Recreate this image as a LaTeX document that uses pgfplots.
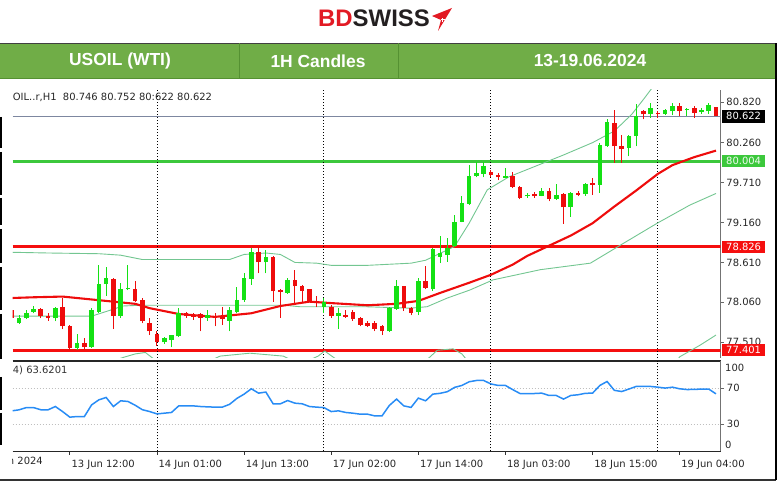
\documentclass[border=0pt]{standalone}
\usepackage{pgfplots}
\pgfplotsset{compat=1.18}
\usepackage{pgfplotstable}
\usepackage{fontspec}
\setmainfont{DejaVu Sans}
\newfontfamily\arialfont{Liberation Sans}

\definecolor{bull}{RGB}{20,225,20}
\definecolor{bear}{RGB}{238,12,12}
\definecolor{band}{RGB}{115,198,145}
\definecolor{lvlgreen}{RGB}{60,200,60}
\definecolor{lvlred}{RGB}{245,15,15}
\definecolor{bidline}{RGB}{125,135,160}
\definecolor{rsiblue}{RGB}{40,140,245}
\definecolor{banner}{RGB}{112,173,71}
\definecolor{bannerdiv}{RGB}{85,145,50}
\definecolor{bdred}{RGB}{226,26,36}
\definecolor{bddark}{RGB}{35,31,32}

% hourly candles, k = bar index (0 = 13 Jun 05:00)
\pgfplotstableread{
k O H L C
-1 77.95 78.03 77.80 77.85
0 77.77 77.89 77.76 77.85
1 77.84 77.95 77.83 77.92
2 77.93 78.01 77.91 77.97
3 77.97 77.98 77.84 77.87
4 77.87 77.91 77.81 77.84
5 77.84 78.00 77.80 77.98
6 77.99 78.12 77.69 77.73
7 77.73 77.75 77.40 77.43
8 77.43 77.62 77.41 77.50
9 77.50 77.57 77.41 77.44
10 77.44 77.98 77.43 77.95
11 77.93 78.57 77.92 78.31
12 78.31 78.55 78.15 78.39
13 78.38 78.39 77.69 77.87
14 77.87 78.32 77.85 78.24
15 78.24 78.57 78.23 78.26
16 78.25 78.35 78.07 78.08
17 78.09 78.12 77.77 77.80
18 77.78 77.84 77.61 77.66
19 77.62 77.66 77.46 77.51
20 77.51 77.58 77.49 77.57
21 77.54 77.61 77.44 77.61
22 77.59 77.98 77.58 77.91
23 77.91 77.93 77.85 77.87
24 77.88 77.92 77.82 77.86
25 77.90 77.92 77.66 77.85
26 77.85 77.96 77.81 77.89
27 77.87 77.92 77.73 77.84
28 77.86 78.00 77.75 77.83
29 77.81 78.00 77.66 77.96
30 77.93 78.27 77.92 78.09
31 78.09 78.46 78.07 78.39
32 78.38 78.81 78.30 78.76
33 78.76 78.82 78.46 78.61
34 78.61 78.78 78.46 78.69
35 78.69 78.70 78.07 78.21
36 78.23 78.24 77.85 78.20
37 78.19 78.39 78.18 78.37
38 78.37 78.50 78.02 78.28
39 78.28 78.30 78.07 78.22
40 78.24 78.25 78.06 78.07
41 78.08 78.15 78.00 78.06
42 78.00 78.12 77.91 78.06
43 78.00 78.02 77.85 77.87
44 77.87 77.98 77.69 77.91
45 77.89 77.95 77.85 77.86
46 77.93 77.95 77.81 77.83
47 77.84 77.86 77.73 77.75
48 77.78 77.80 77.72 77.74
49 77.78 77.80 77.66 77.70
50 77.73 77.75 77.61 77.66
51 77.66 77.99 77.65 77.98
52 77.97 78.37 77.96 78.28
53 78.28 78.29 77.94 77.98
54 77.98 77.99 77.88 77.92
55 77.93 78.40 77.88 78.36
56 78.36 78.56 78.24 78.26
57 78.24 78.81 78.22 78.79
58 78.69 78.97 78.60 78.74
59 78.71 78.94 78.62 78.81
60 78.83 79.26 78.82 79.17
61 79.17 79.52 79.16 79.43
62 79.42 79.95 79.40 79.80
63 79.80 79.99 79.78 79.84
64 79.83 79.99 79.78 79.94
65 79.86 79.88 79.78 79.81
66 79.81 79.84 79.74 79.78
67 79.77 79.91 79.77 79.80
68 79.80 79.86 79.63 79.65
69 79.65 79.66 79.48 79.50
70 79.52 79.56 79.50 79.54
71 79.55 79.58 79.50 79.52
72 79.53 79.64 79.52 79.59
73 79.60 79.64 79.45 79.48
74 79.49 79.69 79.47 79.54
75 79.55 79.56 79.14 79.37
76 79.37 79.58 79.24 79.56
77 79.57 79.60 79.52 79.54
78 79.55 79.71 79.53 79.69
79 79.70 79.77 79.54 79.68
80 79.68 80.26 79.57 80.23
81 80.21 80.58 80.20 80.55
82 80.53 80.71 79.98 80.21
83 80.22 80.37 79.98 80.17
84 80.19 80.37 80.07 80.35
85 80.35 80.79 80.21 80.62
86 80.69 80.71 80.58 80.65
87 80.65 80.81 80.60 80.73
88 80.67 80.69 80.60 80.66
89 80.66 80.72 80.64 80.71
90 80.69 80.81 80.64 80.76
91 80.77 80.81 80.62 80.69
92 80.71 80.73 80.62 80.72
93 80.73 80.76 80.60 80.67
94 80.68 80.73 80.66 80.71
95 80.69 80.81 80.66 80.78
96 80.746 80.752 80.622 80.622
}\candles

% red moving average
\pgfplotstableread{
k v
-1 78.12
2 78.13
6 78.14
11 78.09
16 78.04
18 77.98
22 77.90
27 77.86
32 77.91
36 78.01
40 78.07
43 78.05
48 78.02
52 78.04
55 78.08
58 78.19
62 78.33
65 78.44
68 78.58
70 78.70
73 78.84
76 78.98
79 79.15
82 79.38
85 79.60
88 79.83
90 79.95
93 80.06
96 80.15
}\mared

% thin green bands
\pgfplotstableread{
k v
-1 78.75
4 78.74
11 78.73
14 78.71
17 78.65
29 78.65
31 78.72
34 78.74
36 78.72
38 78.61
41 78.60
43 78.57
48 78.57
54 78.60
56 78.64
60 78.83
62 79.15
64.5 79.61
67.5 79.79
71 79.93
75 80.09
79 80.26
82 80.42
84.4 80.65
86.2 80.88
88 81.12
}\bandup

\pgfplotstableread{
k v
-1 77.87
10 77.87
12.5 77.95
14.3 78.01
16.7 78.02
36.6 78.02
38.7 78.00
47.7 78.00
53.9 77.98
56.2 78.00
59 78.12
62.1 78.23
65.3 78.37
71.8 78.51
78.7 78.60
83.2 78.87
87.9 79.15
92.4 79.40
96 79.56
}\bandmid

\pgfplotstableread{
k v
-1 77.16
12.5 77.24
14.3 77.30
16 77.35
17.4 77.37
18.7 77.27
25 77.20
27.7 77.32
31.8 77.36
36.4 77.32
38.7 77.21
41.2 77.32
42.1 77.39
43.5 77.29
47 77.18
55.2 77.18
57.6 77.40
59.8 77.42
61 77.35
62.8 77.13
66 76.60
80 76.50
88.3 76.95
91 77.31
93.8 77.47
96 77.61
}\banddn

% RSI
\pgfplotstableread{
k r
-1 44.8
0 45.9
1 48.4
2 48.4
3 46.0
4 45.9
5 49.6
6 44.0
7 37.8
8 38.5
9 38.5
10 51.4
11 57.0
12 59.6
13 49.6
14 55.9
15 55.2
16 51.0
17 46.0
18 44.0
19 41.4
20 42.2
21 43.0
22 50.3
23 50.3
24 50.3
25 49.6
26 49.2
27 48.9
28 48.9
29 52.0
30 58.5
31 63.3
32 69.2
33 64.4
34 65.6
35 52.6
36 52.6
37 56.2
38 53.3
39 52.6
40 49.6
41 48.9
42 48.4
43 44.0
44 44.8
45 43.0
46 42.2
47 41.1
48 41.1
49 39.2
50 39.2
51 50.7
52 57.8
53 50.3
54 48.6
55 58.9
56 55.9
57 63.3
58 64.2
59 66.0
60 70.8
61 72.9
62 77.0
63 78.4
64 78.4
65 74.6
66 72.9
67 72.9
68 68.3
69 64.0
70 64.0
71 64.0
72 64.4
73 61.8
74 61.8
75 57.8
76 61.8
77 62.6
78 64.2
79 64.4
80 72.9
81 77.3
82 67.5
83 66.2
84 68.9
85 71.8
86 71.8
87 71.8
88 71.0
89 70.0
90 71.0
91 69.2
92 68.4
93 68.5
94 68.9
95 68.9
96 63.6
}\rsi

\tikzset{
  daysep/.style={black, line width=0.9bp, dash pattern=on 1.3bp off 1.7bp},
  pricebox/.style={anchor=west, inner sep=0pt, minimum width=43bp, minimum height=12.5bp,
    font=\fontsize{10}{12}\selectfont, text=white, xshift=1.2bp},
}
\pgfplotsset{
  candlebar/.style 2 args={only marks, mark=*, mark size=0pt,
    mark options={draw opacity=0, fill opacity=0},
    error bars/y dir=plus, error bars/y explicit, error bars/error mark=none,
    error bars/error bar style={#1, line width=#2}},
}

\begin{document}
\begin{tikzpicture}[x=1bp,y=1bp]
\useasboundingbox (0,0) rectangle (780,487);

% logo
\node[anchor=base west, inner sep=0pt, font=\arialfont\bfseries\fontsize{24}{24}\selectfont]
  at (318,460) {\textcolor{bdred}{BD}\textcolor{bddark}{SWISS}};
\fill[bdred] (452,479) -- (432,471) -- (441,467) -- (438,456) -- cycle;
\draw[white, line width=1bp] (440.5,467) -- (444.5,467) (442.5,465) -- (442.5,469);

% banner
\fill[banner] (0,408) rectangle (776,443.5);
\draw[black!75, line width=1bp] (0,443.5) -- (776,443.5);
\draw[bannerdiv, line width=1bp] (239.5,408) -- (239.5,443.5) (398,408) -- (398,443.5);
\draw[bannerdiv, line width=0.8bp] (0,408.3) -- (776,408.3);
\begin{scope}[every node/.style={text=white, font=\arialfont\bfseries\fontsize{17.5}{18}\selectfont, inner sep=0pt}]
\node at (120,426) {USOIL (WTI)};
\node at (318,426) {1H Candles};
\node at (590,426) {13-19.06.2024};
\end{scope}

% price panel
\begin{axis}[
  at={(12.7bp,129bp)}, anchor=south west,
  scale only axis, width=708bp, height=268bp,
  xmin=-0.87, xmax=96.65, ymin=77.294, ymax=80.985,
  clip mode=individual,
  axis x line=none, axis y line*=right,
  axis line style={draw=black!55, line width=0.8bp},
  ytick={77.51,78.06,78.61,79.16,79.71,80.26,80.82},
  tick align=outside, major tick length=3bp,
  ytick style={black!60, line width=0.8bp},
  yticklabel style={font=\fontsize{10}{12}\selectfont, text=black!85, inner sep=1bp, xshift=1.5bp},
  /pgf/number format/fixed, /pgf/number format/fixed zerofill,
  /pgf/number format/precision=3, /pgf/number format/assume math mode=true,
]
% levels
\addplot[bidline, line width=0.9bp] coordinates {(-0.87,80.622) (96.65,80.622)};
\addplot[lvlgreen, line width=2.6bp] coordinates {(-0.87,80.004) (96.65,80.004)};
\addplot[lvlred, line width=2.6bp] coordinates {(-0.87,78.826) (96.65,78.826)};
\addplot[lvlred, line width=2.6bp] coordinates {(-0.87,77.401) (96.65,77.401)};
% day separators
\foreach \d in {19,42,65,88} {
  \edef\tmp{\noexpand\draw[daysep] (axis cs:\d,77.294) -- (axis cs:\d,80.985);}\tmp
}
% bands and average
\addplot[band, line width=0.9bp] table[x=k, y=v] {\bandup};
\addplot[band, line width=0.9bp] table[x=k, y=v] {\bandmid};
\addplot[band, line width=0.9bp] table[x=k, y=v] {\banddn};
\addplot[bear, line width=2.1bp] table[x=k, y=v] {\mared};
% wicks
\addplot[candlebar={bull}{1bp}, restrict expr to domain={\thisrow{C}-\thisrow{O}}{0:100}]
  table[x=k, y=L, y error plus expr=\thisrow{H}-\thisrow{L}] {\candles};
\addplot[candlebar={bear}{1bp}, restrict expr to domain={\thisrow{O}-\thisrow{C}}{0.00001:100}]
  table[x=k, y=L, y error plus expr=\thisrow{H}-\thisrow{L}] {\candles};
% bodies
\addplot[candlebar={bull}{4.6bp}, restrict expr to domain={\thisrow{C}-\thisrow{O}}{0:100}]
  table[x=k, y=O, y error plus expr=\thisrow{C}-\thisrow{O}] {\candles};
\addplot[candlebar={bear}{4.6bp}, restrict expr to domain={\thisrow{O}-\thisrow{C}}{0.00001:100}]
  table[x=k, y=C, y error plus expr=\thisrow{O}-\thisrow{C}] {\candles};
% price tags
\node[pricebox, fill=black] at (axis cs:96.65,80.622) {80.622};
\node[pricebox, fill=lvlgreen, text=white!92!lvlgreen] at (axis cs:96.65,80.004) {80.004};
\node[pricebox, fill=lvlred] at (axis cs:96.65,78.826) {78.826};
\node[pricebox, fill=lvlred] at (axis cs:96.65,77.401) {77.401};
\end{axis}

% RSI panel
\begin{axis}[
  at={(12.7bp,35.7bp)}, anchor=south west,
  scale only axis, width=708bp, height=90.3bp,
  xmin=-0.87, xmax=96.65, ymin=0, ymax=100,
  clip mode=individual,
  separate axis lines,
  axis x line*=box, axis y line*=right,
  x axis line style={draw=black!85, line width=1.3bp},
  y axis line style={draw=black!55, line width=0.8bp},
  xtick pos=lower,
  xtick={7,19,31,43,55,67,79,91},
  xticklabels={13 Jun 12:00,14 Jun 01:00,14 Jun 13:00,17 Jun 02:00,17 Jun 14:00,18 Jun 03:00,18 Jun 15:00,19 Jun 04:00},
  ytick={30,70},
  tick align=outside, major tick length=3.5bp,
  xtick style={black!80, line width=0.8bp},
  ytick style={black!60, line width=0.8bp},
  xticklabel style={font=\fontsize{10}{12}\selectfont, text=black!85, anchor=north west, inner sep=0pt, xshift=1.5bp, yshift=-5bp},
  yticklabel style={font=\fontsize{10}{12}\selectfont, text=black!85, inner sep=1bp, xshift=1.5bp},
  ymajorgrids, major grid style={black!25, line width=0.8bp, dash pattern=on 1.5bp off 1.5bp},
  /pgf/number format/assume math mode=true,
]
\foreach \d in {19,42,65,88} {
  \edef\tmp{\noexpand\draw[daysep] (axis cs:\d,0) -- (axis cs:\d,100);}\tmp
}
\addplot[rsiblue, line width=1.5bp] table[x=k, y=r] {\rsi};
\end{axis}

% texts in the panels
\node[anchor=base west, inner sep=0pt, font=\fontsize{10}{12}\selectfont, text=black!85]
  at (12.7,386.5) {OIL..r,H1\ \ 80.746 80.752 80:622 80.622};
\node[anchor=base west, inner sep=0pt, font=\fontsize{10}{12}\selectfont, text=black!80]
  at (12.7,113) {4) 63.6201};
\node[anchor=west, inner sep=0pt, font=\fontsize{10}{12}\selectfont, text=black!85] at (725,119) {100};
\node[anchor=west, inner sep=0pt, font=\fontsize{10}{12}\selectfont, text=black!85] at (725,42) {0};
\begin{scope}
\clip (12.7,0) rectangle (60,35);
\node[anchor=north east, inner sep=0pt, font=\fontsize{10}{12}\selectfont, text=black!85] at (43,30.2) {13 Jun 2024};
\end{scope}

% window frame
\draw[black!80, line width=1.2bp] (0,7) -- (776,7);
\draw[black, line width=1.5bp] (776,7) -- (776,443.5);
\foreach \a/\b in {370/339, 335/292, 289/262, 258/224, 220/177, 173/128, 110/77, 74/42} {
  \draw[black, line width=1.5bp] (0.8,\a) -- (0.8,\b);
}
\end{tikzpicture}
\end{document}
